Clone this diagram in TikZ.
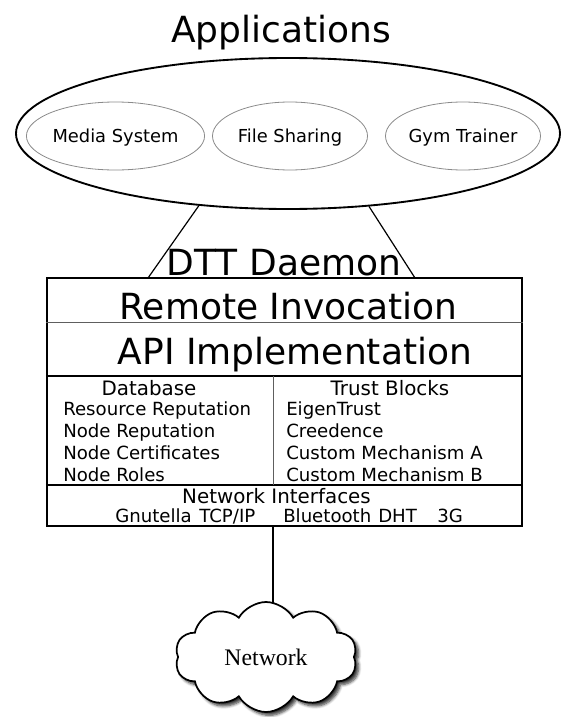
\documentclass[tikz,border=0pt]{standalone}
\usepackage{fontspec}
\setmainfont{DejaVu Sans}
\newfontfamily\netfont{Liberation Serif}
\usepackage{tikz}
\usetikzlibrary{
  positioning, shapes.geometric, shapes.symbols, shadows, shadows.blur, backgrounds, calc
}
\usepackage{xcolor}
\definecolor{dink}{HTML}{000000}
\definecolor{dgray}{HTML}{8A8A8A}
\definecolor{dthin}{HTML}{5E5E5E}
\definecolor{dshade}{HTML}{404040}
\tikzset{
  bigtitle/.style={font=\fontsize{27}{32}\selectfont, inner sep=0pt, anchor=base},
  appblob/.style={ellipse, draw=dink, line width=1.4pt, inner sep=0pt,
                  minimum width=408pt, minimum height=113.25pt},
  appbox/.style={ellipse, draw=dgray, line width=0.6pt, inner sep=0pt,
                 minimum width=116.25pt, minimum height=51pt,
                 text height=9.7pt, text depth=0pt,
                 font=\fontsize{13.4}{16}\selectfont},
  daemonbox/.style={rectangle, draw=dink, line width=1.8pt, inner sep=0pt,
                    minimum width=356.25pt, minimum height=186pt},
  cellhead/.style={font=\fontsize{14.9}{18}\selectfont, inner sep=0pt, anchor=base},
  cellitem/.style={font=\fontsize{13.6}{16}\selectfont, inner sep=0pt, anchor=base west},
  netcloud/.style={cloud, cloud puffs=10, cloud puff arc=120, cloud ignores aspect,
                   draw=dink, line width=1.3pt, fill=white, inner sep=0pt,
                   minimum width=136.5pt, minimum height=82.5pt,
                   font=\netfont\fontsize{17.8}{20}\selectfont,
                   blur shadow={shadow xshift=2.5pt, shadow yshift=-2.5pt,
                                shadow blur steps=6, shadow opacity=80}},
  link/.style={line width=0.9pt, dink},
}

\begin{document}
\begin{tikzpicture}[x=0.75pt, y=-0.75pt]
  \useasboundingbox (0,0) rectangle (561,717);

  %% Applications
  \node[bigtitle] (apptitle) at (281,43) {Applications};
  \node[appblob] (apps) at (288,133.5) {};
  \node[appbox] (media) at (115.5,136) {Media System};
  \node[appbox] (files) at (290,136)   {File Sharing};
  \node[appbox] (gym)   at (463,136)   {Gym Trainer};

  %% Daemon
  \node[daemonbox] (daemon) at (284.5,402) {};
  \node[bigtitle] (daemontitle) at (284,275) {DTT Daemon};
  \coordinate (lfoot) at (148,278);
  \coordinate (rfoot) at (415,278);
  \draw[link] (apps.219) -- (lfoot);
  \draw[link] (apps.318) -- (rfoot);

  % layer dividers
  \draw[dthin, line width=0.7pt] (daemon.west |- 0,322) -- (daemon.east |- 0,322);
  \draw[dink, line width=1.4pt] (daemon.west |- 0,376) -- (daemon.east |- 0,376);
  \draw[dink, line width=1.4pt] (daemon.west |- 0,485) -- (daemon.east |- 0,485);
  \coordinate (split) at (273,376);
  \draw[dthin, line width=0.7pt] (split) -- (split |- 0,485);

  \node[bigtitle] (remote) at (288.5,319) {Remote Invocation};
  \node[bigtitle] (api)    at (295,364)   {API Implementation};

  %% Database / Trust Blocks
  \node[cellhead] (dbhead)    at (149,395) {Database};
  \node[cellhead] (trusthead) at (390,395) {Trust Blocks};
  \foreach \y/\dbtext/\trusttext in {
      415/Resource Reputation/EigenTrust,
      437/Node Reputation/Creedence,
      459/Node Certificates/Custom Mechanism A,
      481/Node Roles/Custom Mechanism B}{
    \node[cellitem] (db-\y)    at (63,\y)  {\dbtext};
    \node[cellitem] (trust-\y) at (286,\y) {\trusttext};
  }

  %% Network interfaces
  \node[cellhead] (netif) at (276.5,503) {Network Interfaces};
  \foreach \x/\proto in {115/Gnutella, 199/TCP\slash IP, 283/Bluetooth, 378/DHT, 437/3G}
    \node[cellitem] (proto-\x) at (\x,522) {\proto};

  %% Network
  \node[netcloud] (net) at (266,657) {Network};
  \begin{scope}[on background layer]
    \draw[line width=0.8pt] (split |- daemon.south) -- (split |- net.center);
  \end{scope}
\end{tikzpicture}
\end{document}
